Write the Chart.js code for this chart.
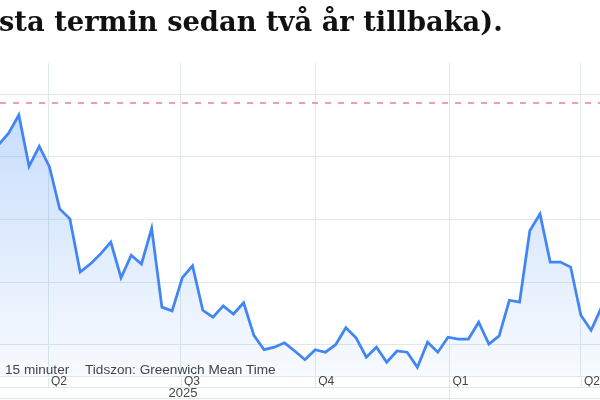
<!DOCTYPE html>
<html>
<head>
<meta charset="utf-8">
<script src="https://cdn.jsdelivr.net/npm/chart.js@4.4.1/dist/chart.umd.min.js"></script>
<style>
  body { margin: 0; overflow: hidden; background: #fff; }
  #wrap { position: relative; width: 600px; height: 400px; }
  #chart { position: absolute; left: 0; top: 0; }
  #title { position: absolute; left: -1px; top: 5px; font: bold 27.3px "DejaVu Serif", serif; color: #111; white-space: nowrap; }
  .note { position: absolute; top: 362px; font: 13.6px "Liberation Sans", Arial, sans-serif; color: #444; white-space: nowrap; }
</style>
</head>
<body>
<div id="wrap">
  <canvas id="chart" width="600" height="400"></canvas>
  <div id="title">sta termin sedan två år tillbaka).</div>
  <div class="note" style="left:5px">15 minuter</div>
  <div class="note" style="left:85px">Tidszon: Greenwich Mean Time</div>
</div>
<script>
// veckovärden, läst ur bilden
const weeks = [
  '2025-02-26','2025-03-05','2025-03-12','2025-03-19','2025-03-26','2025-04-02','2025-04-09','2025-04-16',
  '2025-04-23','2025-04-30','2025-05-07','2025-05-14','2025-05-21','2025-05-28','2025-06-04','2025-06-11',
  '2025-06-18','2025-06-25','2025-07-02','2025-07-09','2025-07-16','2025-07-23','2025-07-30','2025-08-06',
  '2025-08-13','2025-08-20','2025-08-27','2025-09-03','2025-09-10','2025-09-17','2025-09-24','2025-10-01',
  '2025-10-08','2025-10-15','2025-10-22','2025-10-29','2025-11-05','2025-11-12','2025-11-19','2025-11-26',
  '2025-12-03','2025-12-10','2025-12-17','2025-12-24','2025-12-31','2026-01-07','2026-01-14','2026-01-21',
  '2026-01-28','2026-02-04','2026-02-11','2026-02-18','2026-02-25','2026-03-04','2026-03-11','2026-03-18',
  '2026-03-25','2026-04-01','2026-04-08','2026-04-15','2026-04-22'
];
const values = [
  4.19, 4.38, 4.67, 3.85, 4.17, 3.84, 3.17, 3.01,
  2.16, 2.29, 2.45, 2.64, 2.07, 2.43, 2.29, 2.86,
  1.60, 1.54, 2.07, 2.26, 1.55, 1.44, 1.62, 1.49,
  1.67, 1.15, 0.92, 0.96, 1.03, 0.90, 0.76, 0.92,
  0.88, 1.00, 1.27, 1.11, 0.80, 0.96, 0.72, 0.90,
  0.88, 0.64, 1.04, 0.88, 1.12, 1.09, 1.09, 1.36,
  1.01, 1.14, 1.71, 1.68, 2.82, 3.09, 2.32, 2.32,
  2.24, 1.47, 1.23, 1.59, 1.79
];
const refLevel = 4.86;

const quarterDates = ['2025-04-01', '2025-07-01', '2025-10-01', '2026-01-01', '2026-04-01'];
const quarterLabels = ['Q2', 'Q3', 'Q4', 'Q1', 'Q2'];
const yearLabel = '2025';
const yearSpan = ['2025-01-01', '2026-01-01'];
const yTicks = [1, 2, 3, 4, 5];

const gridColor = '#e1e8e8';
const origin = Date.parse('2025-01-01');
function day(s) { return (Date.parse(s) - origin) / 86400000; }

const xMin = 57.1, xMax = 468.1;

const rowLines = {
  id: 'rowLines',
  afterDraw(chart) {
    const ctx = chart.ctx;
    const a = chart.chartArea;
    const x = chart.scales.x;
    ctx.save();
    ctx.strokeStyle = gridColor;
    ctx.lineWidth = 1;
    ctx.beginPath();
    [11, 22].forEach(off => {
      ctx.moveTo(a.left, a.bottom + off + 0.5);
      ctx.lineTo(a.right, a.bottom + off + 0.5);
    });
    x.ticks.forEach(t => {
      const px = Math.round(x.getPixelForValue(t.value)) + 0.5;
      ctx.moveTo(px, a.bottom);
      ctx.lineTo(px, a.bottom + 11);
    });
    const endPx = Math.round(x.getPixelForValue(day(yearSpan[1]))) + 0.5;
    ctx.moveTo(endPx, a.bottom + 11);
    ctx.lineTo(endPx, chart.height);
    ctx.stroke();
    ctx.fillStyle = '#444';
    ctx.font = '13px "Liberation Sans", Arial, sans-serif';
    ctx.textAlign = 'center';
    ctx.textBaseline = 'middle';
    const mid = (day(yearSpan[0]) + day(yearSpan[1])) / 2;
    ctx.fillText(yearLabel, x.getPixelForValue(mid), a.bottom + 17.5);
    ctx.restore();
  }
};

new Chart(document.getElementById('chart'), {
  type: 'line',
  data: {
    datasets: [
      {
        data: weeks.map((w, i) => ({ x: day(w), y: values[i] })),
        borderColor: '#4285f4',
        borderWidth: 2.75,
        pointRadius: 0,
        tension: 0,
        fill: 'start',
        backgroundColor(c) {
          const a = c.chart.chartArea;
          if (!a) return 'rgba(66,133,244,0.15)';
          const g = c.chart.ctx.createLinearGradient(0, a.top, 0, a.bottom);
          g.addColorStop(0, 'rgba(66,140,244,0.34)');
          g.addColorStop(1, 'rgba(66,140,244,0.04)');
          return g;
        }
      },
      {
        data: [{ x: xMin, y: refLevel }, { x: xMax, y: refLevel }],
        borderColor: '#ec7f8d',
        borderWidth: 1.5,
        borderDash: [6, 7],
        pointRadius: 0,
        fill: false
      }
    ]
  },
  options: {
    responsive: false,
    animation: false,
    layout: { padding: { top: 63, bottom: 13.6, left: 0, right: 0 } },
    plugins: { legend: { display: false }, tooltip: { enabled: false } },
    scales: {
      x: {
        type: 'linear',
        min: xMin,
        max: xMax,
        afterBuildTicks(scale) { scale.ticks = quarterDates.map(d => ({ value: day(d) })); },
        ticks: {
          autoSkip: false,
          maxRotation: 0,
          align: 'start',
          labelOffset: 3,
          padding: -2,
          color: '#444',
          font: { family: '"Liberation Sans", Arial, sans-serif', size: 12 },
          callback: (v, i) => quarterLabels[i]
        },
        grid: { color: gridColor, drawTicks: false },
        border: { display: true, color: gridColor }
      },
      y: {
        min: 0.5,
        max: 5.5,
        afterBuildTicks(scale) { scale.ticks = yTicks.map(v => ({ value: v })); },
        ticks: { display: false },
        grid: { color: gridColor, drawTicks: false },
        border: { display: false }
      }
    }
  },
  plugins: [rowLines]
});
</script>
</body>
</html>
